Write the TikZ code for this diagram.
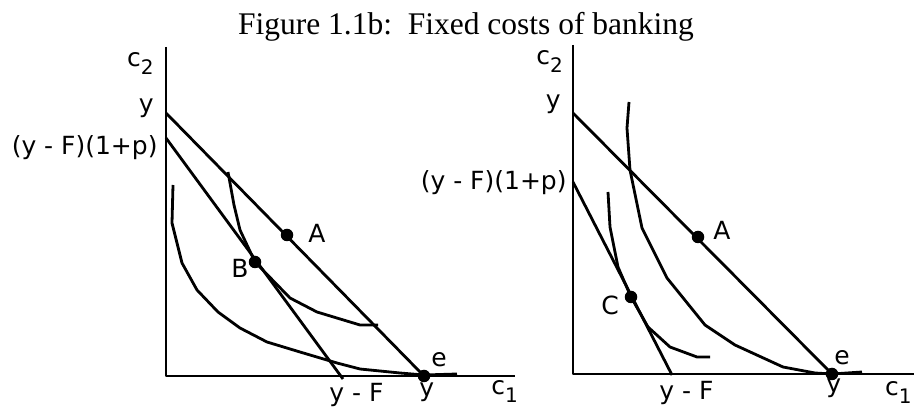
\documentclass[tikz,border=0pt]{standalone}
\usepackage{fontspec}
\setmainfont{Liberation Serif}
\setsansfont{DejaVu Sans}
\usetikzlibrary{positioning}
\newcommand{\csub}[2]{#1\raisebox{-0.3em}{\fontsize{20}{20}\selectfont #2}}

\begin{document}
\begin{tikzpicture}[x=1pt, y=-1pt, line width=2.8pt, line join=round,
  every node/.style={font=\sffamily\fontsize{25}{28}\selectfont, inner sep=0pt},
  dot/.style={circle, fill, inner sep=0pt, minimum size=12.5pt}]
  \useasboundingbox (0,0) rectangle (914,411);
  \clip (0,0) rectangle (914,411);
  % Title
  \node[anchor=base, font=\rmfamily\fontsize{31.5}{34}\selectfont] (title) at (466,35)
    {Figure 1.1b:\ \ Fixed costs of banking};

  % ---- left panel ----
  \coordinate (top1) at (166,47);
  \coordinate (o1) at (166,376);
  \coordinate (end1) at (515,376);
  \draw (top1) -- (o1) -- (end1);
  \coordinate (yint1) at (166,113);
  \coordinate (yfp1) at (166,138);
  \coordinate (yF1) at (343,379);
  \node[dot] (e1) at (424,376) {};
  \node[dot] (A1) at (287,235) {};
  \node[dot] (B1) at (255,262) {};
  \draw (yint1) -- (e1.center);
  \draw (yfp1) -- (yF1);
  % indifference curves
  \draw (173,185) -- (172,223) -- (182,263) -- (197,290) -- (218,312) -- (240,328)
    -- (267,342) -- (300,352) -- (337,363) -- (360,369) -- (400,373) -- (424,375) -- (457,374);
  \draw (228,172) -- (234,205) -- (240,230) -- (255,262) -- (290,298) -- (317,312)
    -- (360,325) -- (378,325);
  % labels
  \node[anchor=base east] (c2a) at (155,67) {\csub{c}{2}};
  \node[anchor=base east] (ya) at (155,113) {y};
  \node[anchor=base east] (yfpa) at (159,155) {(y - F)(1+p)};
  \node[anchor=base west] (la1) at (307,243) {A};
  \node[anchor=base west] (lb1) at (230,278) {B};
  \node[anchor=base west] (le1) at (430,367) {e};
  \node[anchor=base west] (lyF1) at (328,402) {y - F};
  \node[anchor=base west] (ly1) at (418,397) {y};
  \node[anchor=base west] (c1a) at (490,395) {\csub{c}{1}};

  % ---- right panel ----
  \coordinate (top2) at (573,45);
  \coordinate (o2) at (573,374);
  \coordinate (end2) at (930,374);
  \draw (top2) -- (o2) -- (end2);
  \coordinate (yint2) at (573,113);
  \coordinate (yfp2) at (573,182);
  \coordinate (yF2) at (672,375);
  \node[dot] (e2) at (832,374) {};
  \node[dot] (A2) at (698,237) {};
  \node[dot] (C2) at (631,297) {};
  \draw (yint2) -- (e2.center);
  \draw (yfp2) -- (yF2);
  % indifference curves
  \draw (629,102) -- (627,128) -- (630,170) -- (642,228) -- (667,278) -- (705,325)
    -- (735,345) -- (783,367) -- (815,373) -- (832,374) -- (862,372);
  \draw (608,192) -- (610,227) -- (618,267) -- (631,297) -- (648,327) -- (670,347)
    -- (697,357) -- (710,357);
  % labels
  \node[anchor=base west] (c2b) at (535,65) {\csub{c}{2}};
  \node[anchor=base east] (yb) at (562,109) {y};
  \node[anchor=base east] (yfpb) at (568,190) {(y - F)(1+p)};
  \node[anchor=base west] (la2) at (712,240) {A};
  \node[anchor=base west] (lc2) at (600,315) {C};
  \node[anchor=base west] (le2) at (833,365) {e};
  \node[anchor=base west] (lyF2) at (658,400) {y - F};
  \node[anchor=base west] (ly2) at (825,393) {y};
  \node[anchor=base east] (c1b) at (913,396) {\csub{c}{1}};
\end{tikzpicture}
\end{document}
